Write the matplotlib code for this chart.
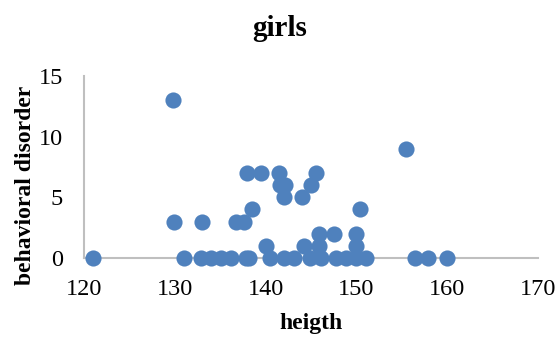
import matplotlib
matplotlib.use('Agg')
import matplotlib.pyplot as plt

# heights (cm) and behavioral disorder scores, girls
height = [121.0, 131.0, 132.9, 134.0, 135.1, 136.2, 137.8, 138.2, 140.5, 142.0,
          143.1, 144.9, 146.1, 147.7, 148.9, 150.0, 151.1, 156.5, 157.9, 160.0,
          129.8, 129.9, 133.0, 136.7, 137.6, 138.5, 138.0, 139.5, 141.5, 141.6,
          142.1, 142.0, 144.0, 145.0, 145.5, 155.5, 150.4, 140.0, 144.2, 145.9,
          145.9, 147.5, 150.0, 150.0]
disorder = [0, 0, 0, 0, 0, 0, 0, 0, 0, 0,
            0, 0, 0, 0, 0, 0, 0, 0, 0, 0,
            13, 3, 3, 3, 3, 4, 7, 7, 7, 6,
            6, 5, 5, 6, 7, 9, 4, 1, 1, 2,
            1, 2, 2, 1]

xticks = [120, 130, 140, 150, 160, 170]
yticks = [0, 5, 10, 15]

plt.rcParams['font.family'] = 'Liberation Serif'

fig = plt.figure(figsize=(5.57, 3.38), dpi=100)
ax = fig.add_axes([84 / 557, 80 / 338, 454 / 557, 182 / 338])

ax.scatter(height, disorder, s=135, color='#4F81BD', linewidths=0,
           clip_on=False, zorder=3)

ax.set_xlim(120, 170)
ax.set_ylim(0, 15)
ax.set_xticks(xticks)
ax.set_yticks(yticks)
ax.tick_params(length=0, labelsize=17.5)
ax.tick_params(axis='x', pad=15)
ax.tick_params(axis='y', pad=15)

for side in ['top', 'right']:
    ax.spines[side].set_visible(False)
for side in ['left', 'bottom']:
    ax.spines[side].set_color('#BFBFBF')
    ax.spines[side].set_linewidth(1.5)

fig.text(0.502, 0.917, 'girls', ha='center', va='center',
         fontsize=21, fontweight='bold')
fig.text(311 / 557, 1 - 323 / 338, 'heigth', ha='center', va='center',
         fontsize=17, fontweight='bold')
fig.text(26 / 557, 1 - 185 / 338, 'behavioral disorder', ha='center',
         va='center', rotation=90, fontsize=17, fontweight='bold')

fig.savefig('out.png', dpi=100)
